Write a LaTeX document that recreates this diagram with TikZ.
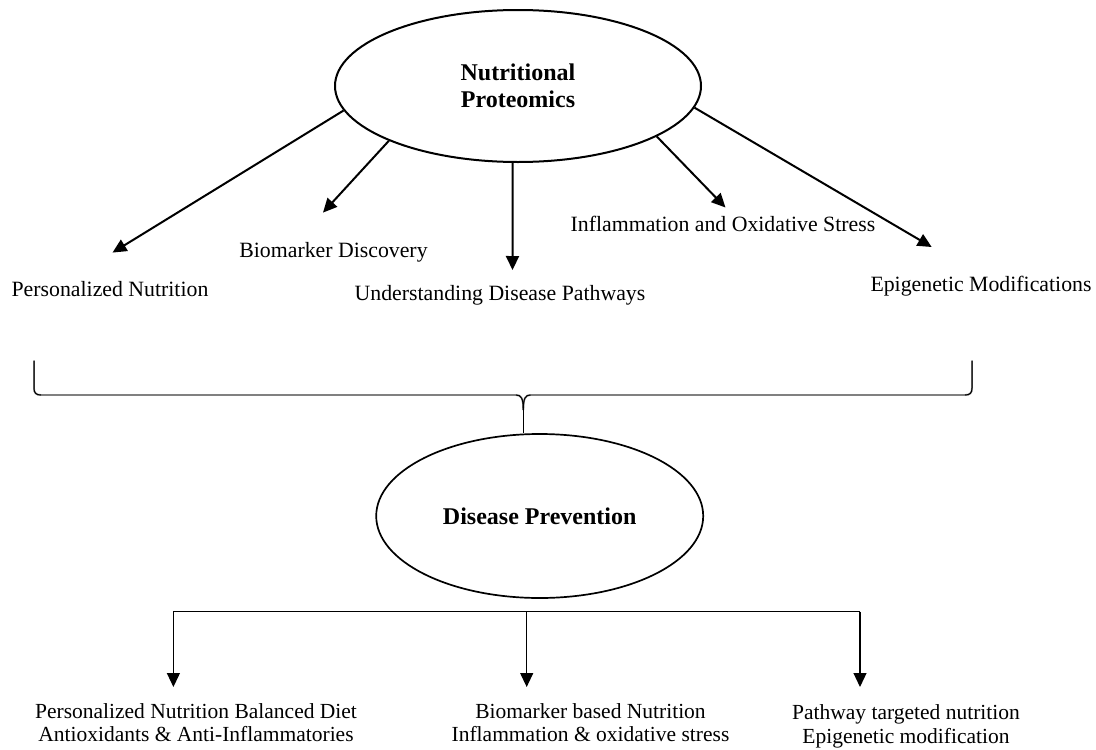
\documentclass[tikz,border=0pt]{standalone}
\usepackage{fontspec}
\setmainfont{Liberation Serif}
\usetikzlibrary{shapes.geometric,arrows.meta}
\tikzset{
  oval/.style={draw, ellipse, inner sep=0pt, align=center, font=\bfseries\fontsize{24}{27}\selectfont},
  lbl/.style={inner sep=0pt, anchor=base, font=\fontsize{21.8}{23.5}\selectfont},
  lbl2/.style={inner sep=0pt, anchor=base, align=center, font=\fontsize{21.5}{23.5}\selectfont},
  toparrow/.style={line width=2pt, -{Triangle[length=14pt,width=13pt]}},
  botarrow/.style={line width=1.2pt, -{Triangle[length=14pt,width=13pt]}},
  bracegray/.style={line width=1.8pt, black!50},
  braceblack/.style={line width=1pt, black},
}
\begin{document}
\begin{tikzpicture}[x=1pt,y=-1pt]
\useasboundingbox (0,0) rectangle (1096,750);

% top ellipse
\node[oval, line width=2pt, minimum width=366pt, minimum height=152pt] (np) at (518,86) {Nutritional\\Proteomics};

% labels
\node[lbl] (pn) at (110,296) {Personalized Nutrition};
\node[lbl] (bd) at (333.5,257) {Biomarker Discovery};
\node[lbl] (ud) at (500,300) {Understanding Disease Pathways};
\node[lbl] (io) at (723,231.7) {Inflammation and Oxidative Stress};
\node[lbl] (em) at (981,291.7) {Epigenetic Modifications};

% arrow tips
\coordinate (t1) at (112.5,252.6);
\coordinate (t2) at (323,212.6);
\coordinate (t3) at (512.5,270);
\coordinate (t4) at (725.5,207.5);
\coordinate (t5) at (931.7,247);

\draw[toparrow] (np.188.7) -- (t1);
\draw[toparrow] (np.203.4) -- (t2);
\draw[toparrow] (np.266) -- (t3);
\draw[toparrow] (np.340.6) -- (t4);
\draw[toparrow] (np.353.8) -- (t5);

% bottom ellipse
\node[oval, line width=1.7pt, minimum width=327pt, minimum height=164pt] (dp) at (539.7,516) {Disease Prevention};

% brace
\coordinate (bl) at (34,360.7);
\coordinate (br) at (972,360.7);
\coordinate (cusp) at (523.3,410);
\draw[bracegray] (bl) -- (34,388) .. controls (34,393) and (36,395) .. (41,395) -- (516,395)
  .. controls (521,395) and (523.3,398) .. (cusp);
\draw[bracegray] (br) -- (972,388) .. controls (972,393) and (970,395) .. (965,395) -- (530.5,395)
  .. controls (525.5,395) and (523.3,398) .. (cusp);
\draw[braceblack] (bl) -- (34,388) .. controls (34,393) and (36,395) .. (41,395);
\draw[braceblack] (br) -- (972,388) .. controls (972,393) and (970,395) .. (965,395);
\draw[braceblack] (516,395) .. controls (521,395) and (523.3,398) .. (cusp);
\draw[braceblack] (530.5,395) .. controls (525.5,395) and (523.3,398) .. (cusp);
\draw[braceblack] (cusp) -- (cusp |- dp.north);

% bottom distribution
\coordinate (hl) at (173.4,611.7);
\coordinate (hm) at (526.7,611.7);
\coordinate (hr) at (860,611.7);
\coordinate (b1) at (173.4,687);
\coordinate (b2) at (526.7,687);
\coordinate (b3) at (860,687);
\draw[line width=1.2pt] (hl) -- (hr);
\draw[botarrow] (hl) -- (b1);
\draw[botarrow] (hm) -- (b2);
\draw[botarrow] (hr) -- (b3);

\node[lbl2] (o1) at (196,741.9) {Personalized Nutrition Balanced Diet\\Antioxidants \& Anti-Inflammatories};
\node[lbl2] (o2) at (590.5,741.9) {Biomarker based Nutrition\\Inflammation \& oxidative stress};
\node[lbl2] (o3) at (906,743.2) {Pathway targeted nutrition\\Epigenetic modification};
\end{tikzpicture}
\end{document}
